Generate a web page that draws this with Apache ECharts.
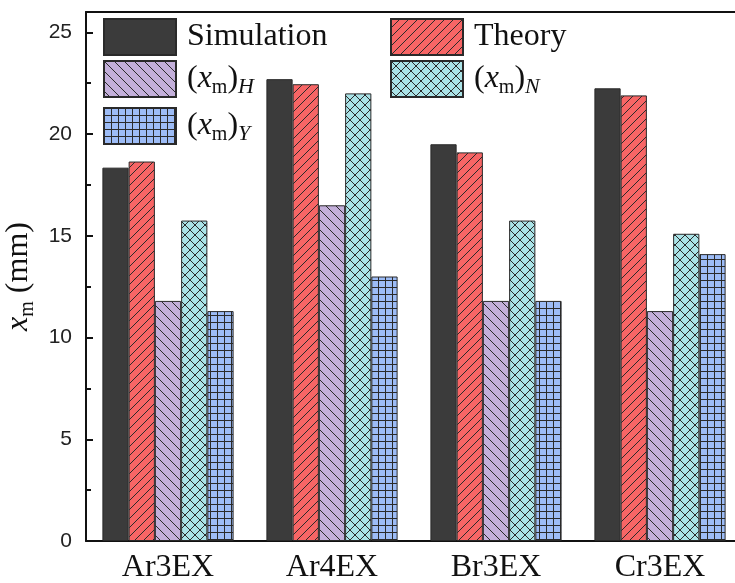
<!DOCTYPE html>
<html>
<head>
<meta charset="utf-8">
<script src="https://cdn.jsdelivr.net/npm/echarts@6/dist/echarts.min.js"></script>
<style>
html,body{margin:0;padding:0;background:#fff;}
#chart{width:735px;height:583px;}
</style>
</head>
<body>
<div id="chart"></div>
<script>
const categories = ['Ar3EX', 'Ar4EX', 'Br3EX', 'Cr3EX'];
const simulation = [18.35, 22.7, 19.5, 22.25];
const theory = [18.65, 22.45, 19.1, 21.9];
const xmH = [11.8, 16.5, 11.8, 11.3];
const xmN = [15.75, 22.0, 15.75, 15.1];
const xmY = [11.3, 13.0, 11.8, 14.1];
const yTicks = [0, 5, 10, 15, 20, 25];

function makePattern(bg, kind) {
  const s = kind === 'grid' ? 7 : (kind === 'cross' ? 10 : (kind === 'back' ? 10 : 9));
  const c = document.createElement('canvas');
  c.width = s; c.height = s;
  const g = c.getContext('2d');
  g.fillStyle = bg; g.fillRect(0, 0, s, s);
  g.strokeStyle = '#2a2a2a'; g.lineWidth = 1;
  g.beginPath();
  if (kind === 'fwd' || kind === 'cross') {
    g.moveTo(-1, s + 1); g.lineTo(s + 1, -1);
    g.moveTo(-1, 1); g.lineTo(1, -1);
    g.moveTo(s - 1, s + 1); g.lineTo(s + 1, s - 1);
  }
  if (kind === 'back' || kind === 'cross') {
    g.moveTo(-1, -1); g.lineTo(s + 1, s + 1);
    g.moveTo(s - 1, -1); g.lineTo(s + 1, 1);
    g.moveTo(-1, s - 1); g.lineTo(1, s + 1);
  }
  if (kind === 'grid') {
    g.moveTo(0.5, 0); g.lineTo(0.5, s);
    g.moveTo(0, 0.5); g.lineTo(s, 0.5);
  }
  g.stroke();
  return { image: c, repeat: 'repeat' };
}

const rich = {
  n: { fontFamily: 'Liberation Serif', fontSize: 32, color: '#111', lineHeight: 38 },
  i: { fontFamily: 'Liberation Serif', fontSize: 32, fontStyle: 'italic', color: '#111', lineHeight: 38 },
  s: { fontFamily: 'Liberation Serif', fontSize: 20, color: '#111', lineHeight: 20, verticalAlign: 'bottom' },
  si: { fontFamily: 'Liberation Serif', fontSize: 22, fontStyle: 'italic', color: '#111', lineHeight: 22, verticalAlign: 'bottom' }
};

const names = ['Simulation', 'Theory', 'xmH', 'xmN', 'xmY'];
const labels = {
  Simulation: '{n|Simulation}',
  Theory: '{n|Theory}',
  xmH: '{n|(}{i|x}{s|m}{n|)}{si|H}',
  xmN: '{n|(}{i|x}{s|m}{n|)}{si|N}',
  xmY: '{n|(}{i|x}{s|m}{n|)}{si|Y}'
};
const legendPos = {
  Simulation: [103, 18], Theory: [390, 18],
  xmH: [103, 60], xmN: [390, 60], xmY: [103, 107]
};

const styles = {
  Simulation: '#3b3b3b',
  Theory: makePattern('#f76565', 'fwd'),
  xmH: makePattern('#c3afda', 'back'),
  xmN: makePattern('#aae3e7', 'cross'),
  xmY: makePattern('#9dbcf6', 'grid')
};
const dataMap = { Simulation: simulation, Theory: theory, xmH: xmH, xmN: xmN, xmY: xmY };

const chart = echarts.init(document.getElementById('chart'), null, { renderer: 'canvas' });
chart.setOption({
  animation: false,
  backgroundColor: '#fff',
  grid: { left: 86, top: 12, width: 656, height: 529, show: false, containLabel: false, outerBoundsMode: 'none' },
  legend: names.map(n => ({
    data: [n], left: legendPos[n][0], top: legendPos[n][1],
    itemWidth: 72, itemHeight: 36, icon: 'rect', padding: 0,
    selectedMode: false,
    formatter: () => labels[n],
    textStyle: { rich: rich, padding: [0, 0, 0, 6] }
  })),
  xAxis: [{
    type: 'category', data: categories, position: 'bottom',
    axisLine: { lineStyle: { color: '#111', width: 2 } },
    axisTick: { alignWithLabel: true, inside: true, length: 8, lineStyle: { color: '#111', width: 2 } },
    axisLabel: { fontFamily: 'Liberation Serif', fontSize: 32, color: '#111', margin: 11 }
  }, {
    type: 'category', data: categories, position: 'bottom',
    axisLine: { show: false },
    axisTick: { inside: true, length: 3, lineStyle: { color: '#111', width: 2 } },
    axisLabel: { show: false }
  }, {
    type: 'category', data: categories, position: 'top',
    axisLine: { show: true, lineStyle: { color: '#111', width: 2 } },
    axisTick: { show: false },
    axisLabel: { show: false }
  }],
  yAxis: {
    type: 'value', min: 0, max: 26, interval: 5,
    axisLine: { show: true, lineStyle: { color: '#111', width: 2 } },
    axisTick: { show: true, inside: true, length: 7, lineStyle: { color: '#111', width: 2 } },
    minorTick: { show: true, splitNumber: 2, length: 5, lineStyle: { color: '#111', width: 2 } },
    splitLine: { show: false },
    axisLabel: {
      fontFamily: 'Liberation Sans', fontSize: 21, color: '#222', margin: 14,
      formatter: v => (yTicks.indexOf(v) >= 0 ? String(v) : '')
    },
    name: '{i|x}{s|m}{n| (mm)}',
    nameLocation: 'middle', nameGap: 42, nameRotate: 90,
    nameTextStyle: { rich: rich }
  },
  series: names.map(n => ({
    name: n, type: 'bar', data: dataMap[n], xAxisIndex: 0,
    barGap: '0%', barCategoryGap: '20%',
    itemStyle: { color: styles[n], borderColor: '#2a2a2a', borderWidth: 1 }
  }))
});
</script>
</body>
</html>
